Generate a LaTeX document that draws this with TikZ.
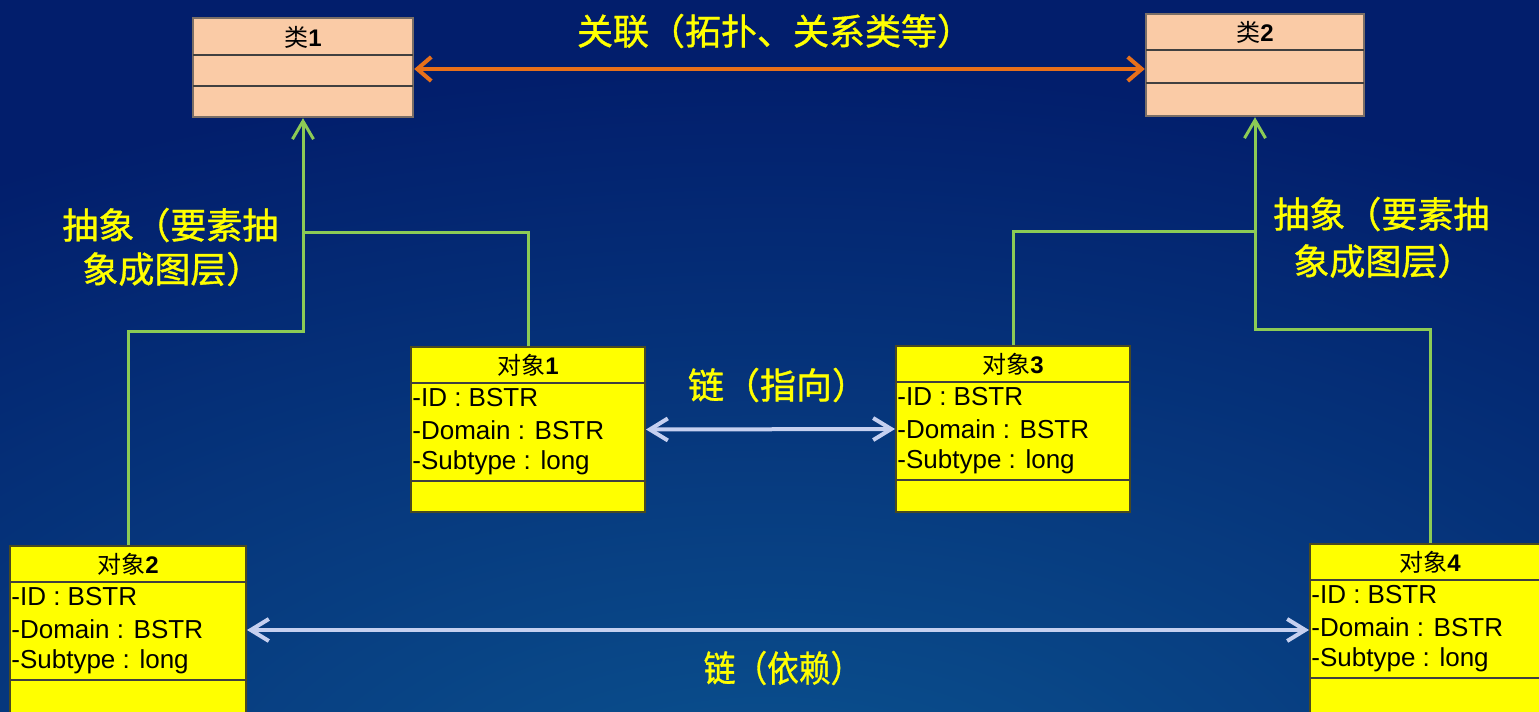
\documentclass[tikz,border=0pt]{standalone}
\usepackage{fontspec}
\setmainfont{Liberation Sans}
\newfontfamily\cjk{Noto Sans CJK SC}
\newfontfamily\cjkb[FakeBold=1]{Noto Sans CJK SC}
\usetikzlibrary{arrows.meta,fit}
\definecolor{navy}{HTML}{021E6C}
\definecolor{bglight}{HTML}{0B5490}
\definecolor{peach}{HTML}{FACBA6}
\definecolor{objy}{HTML}{FFFF00}
\definecolor{gline}{HTML}{8CCB55}
\definecolor{oline}{HTML}{E8701A}
\definecolor{bline}{HTML}{C5D0F0}
\definecolor{labc}{HTML}{FFFF00}
\definecolor{objborder}{HTML}{4A4A20}
\definecolor{clsborder}{HTML}{7A6E66}
\tikzset{
  clsbox/.style={draw=clsborder, line width=1.2pt, fill=peach, inner sep=0pt},
  objbox/.style={draw=objborder, line width=1pt, fill=objy, inner sep=0pt},
  sepline/.style={draw=black!75, line width=1.1pt},
  ttl/.style={inner sep=0pt, font=\fontsize{12pt}{14pt}\selectfont, text=black},
  attr/.style={inner sep=0pt, anchor=west, font=\fontsize{13pt}{15pt}\selectfont, text=black},
  lab/.style={inner sep=0pt, text=labc, font=\cjkb\fontsize{18pt}{20pt}\selectfont},
  absline/.style={draw=gline, line width=1.5pt},
  assoc/.style={draw=oline, line width=2pt, {Straight Barb[length=7pt,width=12pt]}-{Straight Barb[length=7pt,width=12pt]}},
  linkline/.style={draw=bline, line width=2pt, {Straight Barb[length=9pt,width=11pt]}-{Straight Barb[length=9pt,width=11pt]}},
}
\newcommand\objectbox[6]{%
  \node[objbox, fit={(#2,#3) (#4,#5)}] (#1) {};
  \draw[sepline] (#2,#3+36) -- (#4,#3+36);
  \draw[sepline] (#2,#3+134) -- (#4,#3+134);
  \node[ttl] (#1t) at ({(#2+#4)/2},#3+18) {{\cjk 对象}\textbf{#6}};
  \node[attr] (#1a) at (#2+1,#3+51) {-ID : BSTR};
  \node[attr] (#1b) at (#2+1,#3+83) {-Domain : BSTR};
  \node[attr] (#1c) at (#2+1,#3+116) {-Subtype : long};
}
\newcommand\classbox[7]{%
  \node[clsbox, fit={(#2,#3) (#4,#5)}] (#1) {};
  \draw[sepline] (#2,#6) -- (#4,#6);
  \draw[sepline] (#2,#7) -- (#4,#7);
}
\begin{document}
\begin{tikzpicture}[x=0.5pt,y=-0.5pt]
\useasboundingbox (0,0) rectangle (1539,712);
\clip (0,0) rectangle (1539,712);
\fill[navy] (0,0) rectangle (1539,712);
\shade[inner color=bglight, outer color=navy] (770,830) ellipse [x radius=1500, y radius=760];

% classes
\classbox{c1}{193}{18}{413}{117}{55}{86}
\node[ttl] (c1t) at (303,37) {{\cjk 类}\textbf{1}};
\classbox{c2}{1146}{14}{1364}{116}{50}{83}
\node[ttl] (c2t) at (1255,32) {{\cjk 类}\textbf{2}};

% objects
\objectbox{o1}{411}{347}{645}{512}{1}
\objectbox{o3}{896}{346}{1130}{512}{3}
\objectbox{o2}{10}{546}{246}{714}{2}
\objectbox{o4}{1310}{544}{1550}{716}{4}

% association
\draw[assoc] (c1.east |- 0,69) -- (c2.west |- 0,69);
\node[lab] (l1) at (775,31) {关联（拓扑、关系类等）};

% abstraction connectors
\coordinate (j1) at (303,232);
\coordinate (j2) at (303,331);
\coordinate (j3) at (1255,231);
\coordinate (j4) at (1255,329);
\draw[absline, -{Straight Barb[length=9pt,width=10.5pt]}] (o1.north) |- (j1) -- (c1.south);
\draw[absline] (o2.north) |- (j2) -- (j1);
\draw[absline, -{Straight Barb[length=9pt,width=10.5pt]}] (o3.north) |- (j3) -- (c2.south);
\draw[absline] (o4.north) |- (j4) -- (j3);

\node[lab, anchor=west] (l2) at (62,225) {抽象（要素抽};
\node[lab, anchor=west] (l3) at (82,269) {象成图层）};
\node[lab, anchor=west] (l4) at (1273,214) {抽象（要素抽};
\node[lab, anchor=west] (l5) at (1293,261) {象成图层）};

% links
\draw[linkline] (o1.east) -- (o3.west);
\node[lab] (l6) at (778,385) {链（指向）};
\draw[linkline] (o2.east) -- (o4.west);
\node[lab, xscale=0.88] (l7) at (783,668) {链（依赖）};
\end{tikzpicture}
\end{document}
